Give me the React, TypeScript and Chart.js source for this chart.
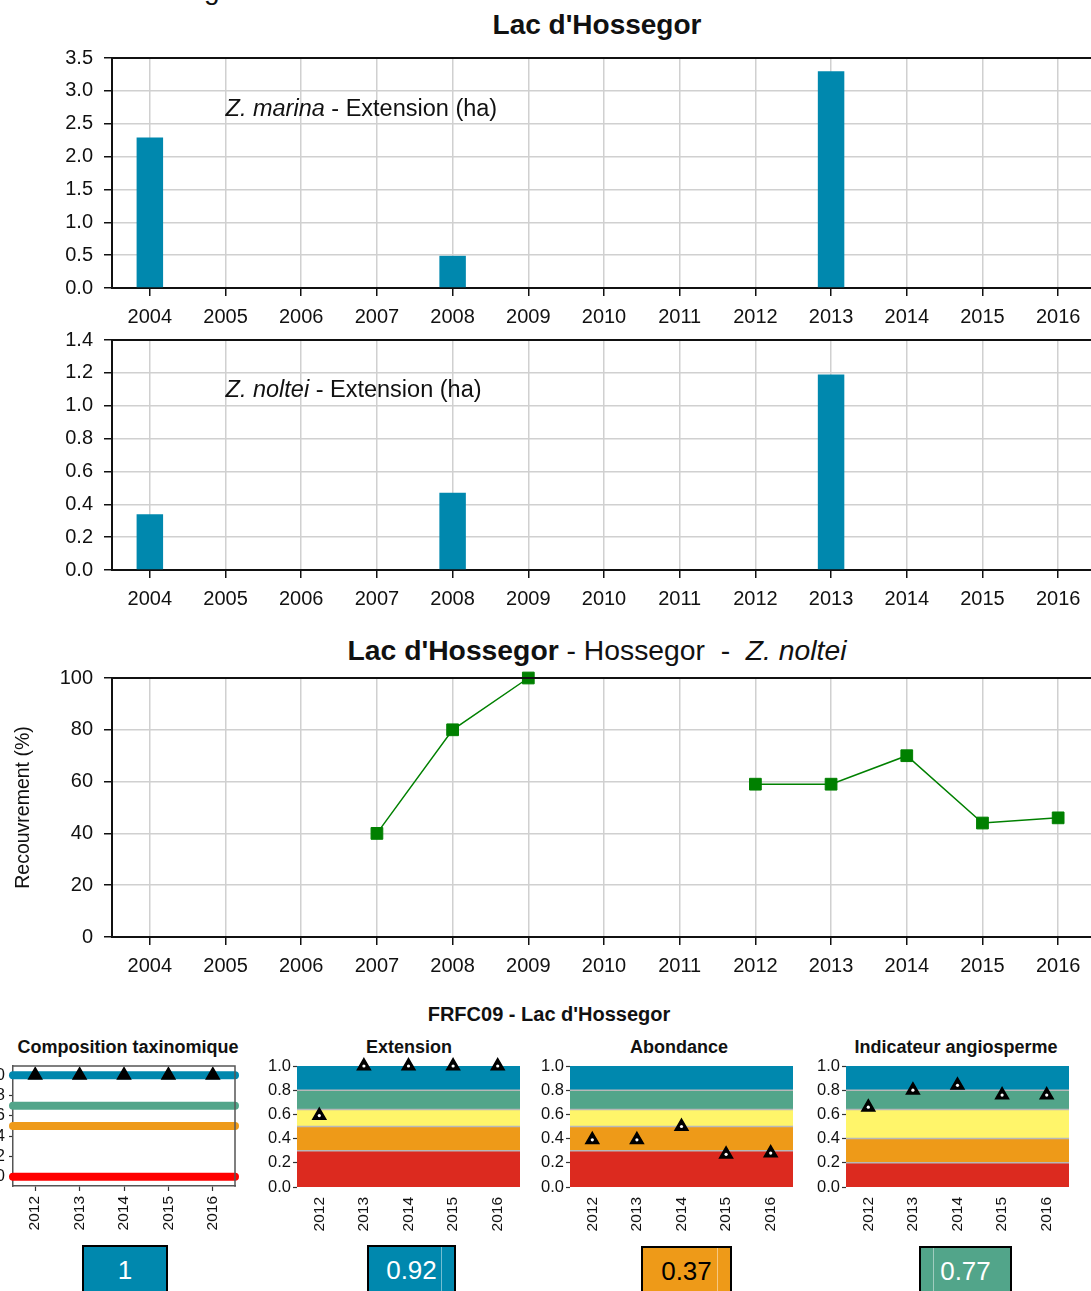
import React, { useEffect, useRef } from 'react';
import { Chart, registerables } from 'chart.js';
Chart.register(...registerables);

const FONT = "'Liberation Sans', Arial, Helvetica, sans-serif";
const TEXT = '#111111';
const GRID = '#d0d0d0';
const AXIS = '#111111';
const BAR_BLUE = '#0088AE';
Chart.defaults.font.family = FONT;
Chart.defaults.color = TEXT;

// ---------- data ----------
const years = ['2004', '2005', '2006', '2007', '2008', '2009', '2010', '2011', '2012', '2013', '2014', '2015', '2016'];
const marinaExtension = [2.29, null, null, null, 0.49, null, null, null, null, 3.3, null, null, null];
const nolteiExtension = [0.34, null, null, null, 0.47, null, null, null, null, 1.19, null, null, null];
const nolteiCover = [null, null, null, 40, 80, 100, null, null, 59, 59, 70, 44, 46];
const marinaTicks = [0, 0.5, 1, 1.5, 2, 2.5, 3, 3.5];
const nolteiTicks = [0, 0.2, 0.4, 0.6, 0.8, 1, 1.2, 1.4];
const coverTicks = [0, 20, 40, 60, 80, 100];

const indexYears = [2012, 2013, 2014, 2015, 2016];
const compositionScores = [1, 1, 1, 1, 1];
const extensionScores = [0.59, 1, 1, 1, 1];
const abundanceScores = [0.39, 0.39, 0.5, 0.27, 0.28];
const angiospermScores = [0.66, 0.8, 0.84, 0.76, 0.76];
const compositionClassLines = [1, 0.7, 0.5, 0];
const compositionLineColors = ['#0088AE', '#52A58A', '#EE9A1A', '#FF0000'];
const extensionBounds = [0, 0.3, 0.5, 0.64, 0.8, 1];
const abundanceBounds = [0, 0.3, 0.5, 0.64, 0.8, 1];
const angiospermBounds = [0, 0.2, 0.4, 0.64, 0.8, 1];
const classColors = ['#DC2A1F', '#EE9A18', '#FFF56A', '#52A58A', '#0088AE'];
const indexTicks = [0, 0.2, 0.4, 0.6, 0.8, 1];
const finalScores = ['1', '0.92', '0.37', '0.77'];

// ---------- helpers ----------
function resetPad(s: any) {
  s.paddingTop = 0; s.paddingBottom = 0; s.paddingLeft = 0; s.paddingRight = 0;
}

const topBorderPlugin = (color: string, width: number, right = false) => ({
  id: 'topBorder',
  afterDraw(chart: any) {
    const { ctx, chartArea: a } = chart;
    ctx.save();
    ctx.strokeStyle = color;
    ctx.lineWidth = width;
    ctx.beginPath();
    ctx.moveTo(a.left - width / 2, a.top);
    ctx.lineTo(a.right, a.top);
    if (right) ctx.lineTo(a.right, a.bottom + width / 2);
    ctx.stroke();
    ctx.restore();
  },
});

const speciesLabelPlugin = (italic: string, rest: string, xIndex: number, yVal: number) => ({
  id: 'speciesLabel',
  afterDatasetsDraw(chart: any) {
    const { ctx, scales } = chart;
    const px = scales.x.getPixelForValue(xIndex);
    const py = scales.y.getPixelForValue(yVal);
    ctx.save();
    ctx.textBaseline = 'middle';
    ctx.textAlign = 'left';
    ctx.fillStyle = TEXT;
    ctx.font = `italic 23.5px ${FONT}`;
    ctx.fillText(italic, px, py);
    const w = ctx.measureText(italic).width;
    ctx.font = `23.5px ${FONT}`;
    ctx.fillText(rest, px + w, py);
    ctx.restore();
  },
});

const bandsPlugin = (bounds: number[]) => ({
  id: 'bands',
  beforeDatasetsDraw(chart: any) {
    const { ctx, chartArea: a, scales } = chart;
    const y = scales.y;
    ctx.save();
    for (let i = 0; i < bounds.length - 1; i++) {
      const y0 = y.getPixelForValue(bounds[i]);
      const y1 = y.getPixelForValue(bounds[i + 1]);
      ctx.fillStyle = classColors[i];
      ctx.fillRect(a.left, y1, a.right - a.left, y0 - y1);
    }
    ctx.strokeStyle = '#b8b8b8';
    ctx.lineWidth = 1.5;
    for (let i = 1; i < bounds.length - 1; i++) {
      const yy = y.getPixelForValue(bounds[i]);
      ctx.beginPath();
      ctx.moveTo(a.left, yy);
      ctx.lineTo(a.right, yy);
      ctx.stroke();
    }
    ctx.restore();
  },
});

function bigXScale() {
  return {
    type: 'category',
    offset: true,
    grid: { offset: false, color: GRID, lineWidth: 1.5, tickLength: 8, tickColor: AXIS, tickWidth: 1.5 },
    border: { color: AXIS, width: 2 },
    ticks: { font: { family: FONT, size: 20 }, color: TEXT, padding: 9, maxRotation: 0, minRotation: 0, autoSkip: false },
    afterFit: (s: any) => { s.height = 42; resetPad(s); },
  };
}

function bigYScale(ticks: number[], decimals: number, title?: string) {
  return {
    min: ticks[0],
    max: ticks[ticks.length - 1],
    afterBuildTicks: (s: any) => { s.ticks = ticks.map((v) => ({ value: v })); },
    grid: { color: GRID, lineWidth: 1.5, tickLength: 8, tickColor: AXIS, tickWidth: 1.5 },
    border: { color: AXIS, width: 2 },
    ticks: { font: { family: FONT, size: 20 }, color: TEXT, padding: 11, callback: (v: any) => Number(v).toFixed(decimals) },
    title: title
      ? { display: true, text: title, font: { family: FONT, size: 19.5 }, color: TEXT, padding: { top: 12, bottom: 0 } }
      : { display: false },
    afterFit: (s: any) => { s.width = 112; resetPad(s); },
  };
}

function barConfig(values: (number | null)[], ticks: number[], italic: string, labelY: number) {
  return {
    type: 'bar',
    data: {
      labels: years,
      datasets: [{ data: values, backgroundColor: BAR_BLUE, borderWidth: 0, barPercentage: 0.35, categoryPercentage: 1 }],
    },
    options: {
      animation: false,
      responsive: false,
      layout: { autoPadding: false, padding: { top: 13, right: 4, left: 0, bottom: 0 } },
      plugins: { legend: { display: false }, tooltip: { enabled: false } },
      scales: { x: bigXScale(), y: bigYScale(ticks, 1) },
    },
    plugins: [speciesLabelPlugin(italic, ' - Extension (ha)', 1, labelY), topBorderPlugin(AXIS, 2)],
  };
}

function lineConfig() {
  return {
    type: 'line',
    data: {
      labels: years,
      datasets: [{
        data: nolteiCover,
        borderColor: '#008000',
        borderWidth: 1.5,
        pointStyle: 'rect',
        pointRadius: 8.3,
        pointBackgroundColor: '#008000',
        pointBorderColor: '#008000',
        pointBorderWidth: 1,
        spanGaps: false,
        clip: false,
      }],
    },
    options: {
      animation: false,
      responsive: false,
      layout: { autoPadding: false, padding: { top: 13, right: 4, left: 0, bottom: 0 } },
      plugins: { legend: { display: false }, tooltip: { enabled: false } },
      scales: { x: bigXScale(), y: bigYScale(coverTicks, 0, 'Recouvrement (%)') },
    },
    plugins: [topBorderPlugin(AXIS, 2)],
  };
}

function indexConfig(scores: number[], bounds: number[] | null) {
  const pts = indexYears.map((x, i) => ({ x, y: scores[i] }));
  const xMin = indexYears[0] - 0.5;
  const xMax = indexYears[indexYears.length - 1] + 0.5;
  const isLines = bounds === null;
  const datasets: any[] = [];
  if (!isLines) {
    datasets.push({ data: pts, pointStyle: 'circle', pointRadius: 1.6, pointBackgroundColor: '#ffffff', pointBorderWidth: 0, order: 0, clip: false });
  }
  datasets.push({ data: pts, pointStyle: 'triangle', pointRadius: 7.5, pointBackgroundColor: '#000000', pointBorderColor: '#000000', pointBorderWidth: 1.5, order: 1, clip: false });
  if (isLines) {
    compositionClassLines.forEach((t, i) => {
      datasets.push({
        data: [{ x: xMin, y: t }, { x: xMax, y: t }],
        showLine: true,
        borderColor: compositionLineColors[i],
        borderWidth: 8,
        borderCapStyle: 'round',
        pointRadius: 0,
        order: 2,
        clip: false,
      });
    });
  }
  const plugins: any[] = [];
  if (bounds) plugins.push(bandsPlugin(bounds));
  else plugins.push(topBorderPlugin('#555555', 1.5, true));
  return {
    type: 'scatter',
    data: { datasets },
    options: {
      animation: false,
      responsive: false,
      layout: { autoPadding: false, padding: { top: 10, right: 4, left: 0, bottom: 0 } },
      plugins: { legend: { display: false }, tooltip: { enabled: false } },
      scales: {
        x: {
          type: 'linear',
          min: xMin,
          max: xMax,
          afterBuildTicks: (s: any) => { s.ticks = indexYears.map((v) => ({ value: v })); },
          grid: { display: isLines, drawOnChartArea: false, tickLength: 5, tickColor: '#333333', tickWidth: 1.2 },
          border: { display: isLines, color: '#555555', width: 1.5 },
          ticks: { callback: (v: any) => String(v), minRotation: 90, maxRotation: 90, font: { family: FONT, size: 15.5 }, color: TEXT, padding: 5, autoSkip: false },
          afterFit: (s: any) => { s.height = 50; resetPad(s); },
        },
        y: {
          min: isLines ? -0.09 : 0,
          max: isLines ? 1.09 : 1,
          afterBuildTicks: (s: any) => { s.ticks = indexTicks.map((v) => ({ value: v })); },
          grid: { display: true, drawOnChartArea: false, tickLength: 4, tickColor: '#333333', tickWidth: 1.2 },
          border: { display: isLines, color: '#555555', width: 1.5 },
          ticks: { callback: (v: any) => Number(v).toFixed(1), font: { family: FONT, size: 16.5 }, color: TEXT, padding: isLines ? 4 : 2 },
          afterFit: (s: any) => { s.width = 40; resetPad(s); },
        },
      },
    },
    plugins,
  };
}

// ---------- components ----------
function ChartCanvas({ x, y, w, h, make }: { x: number; y: number; w: number; h: number; make: () => any }) {
  const ref = useRef<HTMLCanvasElement>(null);
  useEffect(() => {
    const chart = new Chart(ref.current as HTMLCanvasElement, make());
    return () => chart.destroy();
  }, []);
  return <canvas ref={ref} width={w} height={h} style={{ position: 'absolute', left: x, top: y, width: w, height: h }} />;
}

function Label({ cx, cy, size, bold, children }: { cx: number; cy: number; size: number; bold?: boolean; children: any }) {
  const w = 800;
  return (
    <div
      style={{
        position: 'absolute', left: cx - w / 2, top: cy - size * 0.6, width: w, textAlign: 'center',
        fontSize: size, lineHeight: `${size * 1.2}px`, fontWeight: bold ? 'bold' : 'normal',
        fontFamily: FONT, color: TEXT, whiteSpace: 'pre',
      }}
    >
      {children}
    </div>
  );
}

function ScoreBox({ left, width, top, bg, fg, text, lineAt }: { left: number; width: number; top: number; bg: string; fg: string; text: string; lineAt?: number }) {
  return (
    <div
      style={{
        position: 'absolute', left, top, width, height: 60, boxSizing: 'border-box', border: '2px solid #000',
        background: bg, color: fg, fontFamily: FONT, fontSize: 26, lineHeight: '46px', textAlign: 'center',
      }}
    >
      {lineAt !== undefined && (
        <div style={{ position: 'absolute', left: lineAt, top: 0, width: 1, height: 60, background: 'rgba(255,255,255,0.45)' }} />
      )}
      {text}
    </div>
  );
}

export default function App() {
  return (
    <div
      style={{
        position: 'absolute', left: 0, top: 0, width: 1091, height: 1291, overflow: 'hidden',
        background: '#ffffff', fontFamily: FONT, color: TEXT,
      }}
    >
      <div style={{ position: 'absolute', left: 204, top: -24, fontSize: 28, lineHeight: '28px', fontFamily: FONT }}>g</div>
      <Label cx={597} cy={25} size={28} bold>Lac d'Hossegor</Label>
      <ChartCanvas x={0} y={45} w={1100} h={285} make={() => barConfig(marinaExtension, marinaTicks, 'Z. marina', 2.72)} />
      <ChartCanvas x={0} y={327} w={1100} h={285} make={() => barConfig(nolteiExtension, nolteiTicks, 'Z. noltei', 1.09)} />
      <Label cx={597} cy={651} size={28.3}>
        <b>Lac d'Hossegor</b>{' - Hossegor  -  '}<i>Z. noltei</i>
      </Label>
      <ChartCanvas x={0} y={665} w={1100} h={314} make={lineConfig} />

      <Label cx={549} cy={1014} size={20} bold>FRFC09 - Lac d'Hossegor</Label>
      <Label cx={128} cy={1048} size={18} bold>Composition taxinomique</Label>
      <Label cx={409} cy={1048} size={18} bold>Extension</Label>
      <Label cx={679} cy={1048} size={18} bold>Abondance</Label>
      <Label cx={956} cy={1048} size={18} bold>Indicateur angiosperme</Label>

      <ChartCanvas x={-27} y={1056} w={266} h={180} make={() => indexConfig(compositionScores, null)} />
      <ChartCanvas x={257} y={1056} w={267} h={181} make={() => indexConfig(extensionScores, extensionBounds)} />
      <ChartCanvas x={530} y={1056} w={267} h={181} make={() => indexConfig(abundanceScores, abundanceBounds)} />
      <ChartCanvas x={806} y={1056} w={267} h={181} make={() => indexConfig(angiospermScores, angiospermBounds)} />

      <ScoreBox left={82} width={86} top={1245} bg="#0088AE" fg="#ffffff" text={finalScores[0]} />
      <ScoreBox left={367} width={89} top={1245} bg="#0088AE" fg="#ffffff" text={finalScores[1]} lineAt={72} />
      <ScoreBox left={641} width={91} top={1246} bg="#EE9A18" fg="#000000" text={finalScores[2]} lineAt={74} />
      <ScoreBox left={919} width={93} top={1246} bg="#52A58A" fg="#ffffff" text={finalScores[3]} lineAt={12} />
    </div>
  );
}
